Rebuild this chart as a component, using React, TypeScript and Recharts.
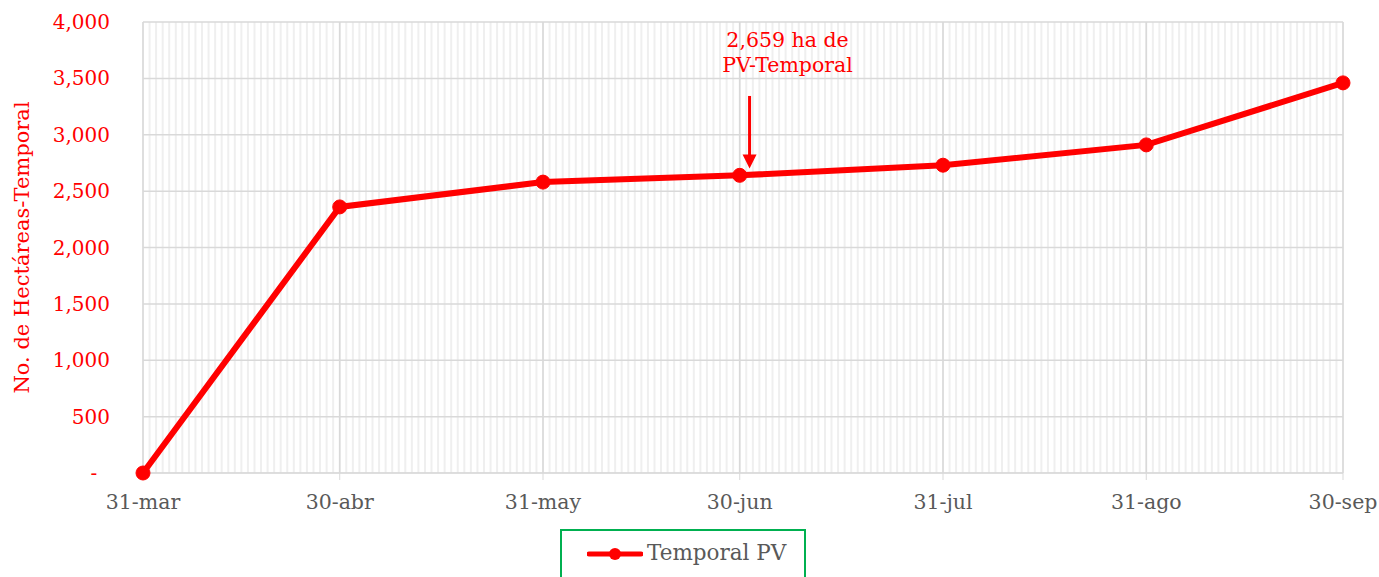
import React from 'react';
import { LineChart, Line, XAxis, YAxis, CartesianGrid, Legend, ReferenceLine } from 'recharts';

// month-end dates and their offset in days from 31-mar
const dateLabels = ['31-mar', '30-abr', '31-may', '30-jun', '31-jul', '31-ago', '30-sep'];
const dayOffsets = [0, 30, 61, 91, 122, 153, 183];
const hectareas = [0, 2360, 2580, 2640, 2730, 2910, 3460];
const yTicks = [0, 500, 1000, 1500, 2000, 2500, 3000, 3500, 4000];
const dailyTicks = Array.from({ length: 184 }, (_, i) => i);

const data = dayOffsets.map((day, i) => ({ day, label: dateLabels[i], value: hectareas[i] }));

const FONT = '"DejaVu Serif", serif';
const RED = '#ff0000';
const GREY = '#595959';

const fmtY = (v: number) => (v === 0 ? '-\u00a0\u00a0' : v.toLocaleString('en-US'));
const fmtX = (v: number) => dateLabels[dayOffsets.indexOf(v)] ?? '';

function Annotation(props: any) {
    const { x1, y1, x2, y2 } = props;
    return (
        <g>
            <line x1={x1} y1={y1} x2={x2} y2={y2 - 12} stroke={RED} strokeWidth={3} />
            <polygon points={`${x2 - 7},${y2 - 14} ${x2 + 7},${y2 - 14} ${x2},${y2}`} fill={RED} />
            <text x={x1 + 38} y={y1 - 49} textAnchor="middle" fill={RED} fontSize={20.5} fontFamily={FONT}>
                2,659 ha de
            </text>
            <text x={x1 + 38} y={y1 - 24} textAnchor="middle" fill={RED} fontSize={20.5} fontFamily={FONT}>
                PV-Temporal
            </text>
        </g>
    );
}

function LegendBox() {
    return (
        <div
            style={{
                width: 246,
                height: 60,
                border: '2px solid #00b050',
                display: 'flex',
                alignItems: 'flex-start',
                paddingTop: 9,
                boxSizing: 'border-box',
                fontFamily: FONT,
                fontSize: 21.5,
                color: GREY,
            }}
        >
            <svg width={56} height={20} style={{ marginLeft: 25, marginRight: 4, marginTop: 4 }}>
                <line x1={2} y1={10} x2={54} y2={10} stroke={RED} strokeWidth={5} strokeLinecap="round" />
                <circle cx={28} cy={10} r={6} fill={RED} />
            </svg>
            <span>Temporal PV</span>
        </div>
    );
}

export default function App() {
    return (
        <div style={{ position: 'absolute', left: 0, top: 0, width: 1379, height: 577, background: '#fff' }}>
            <LineChart width={1379} height={577} data={data} margin={{ top: 22, right: 36, left: 0, bottom: 0 }}>
                <XAxis
                    xAxisId="minor"
                    dataKey="day"
                    type="number"
                    domain={[0, 183]}
                    ticks={dailyTicks}
                    interval={0}
                    hide
                />
                <CartesianGrid xAxisId="minor" horizontal={false} stroke="#efefef" strokeWidth={2} />
                <CartesianGrid stroke="#d9d9d9" strokeWidth={1.5} />
                <XAxis
                    dataKey="day"
                    type="number"
                    domain={[0, 183]}
                    ticks={dayOffsets}
                    tickFormatter={fmtX}
                    height={56}
                    stroke="#d9d9d9"
                    tickSize={7}
                    tickMargin={14}
                    tick={{ fill: GREY, fontSize: 20.5, fontFamily: FONT }}
                    interval={0}
                />
                <YAxis
                    domain={[0, 4000]}
                    ticks={yTicks}
                    tickFormatter={fmtY}
                    width={143}
                    axisLine={false}
                    tickLine={false}
                    tickSize={0}
                    tickMargin={33}
                    tick={{ fill: RED, fontSize: 20, fontFamily: FONT }}
                    label={{
                        value: 'No. de Hectáreas-Temporal',
                        angle: -90,
                        position: 'insideLeft',
                        offset: 22,
                        style: { textAnchor: 'middle', fill: RED, fontSize: 21, fontFamily: FONT },
                    }}
                />
                <ReferenceLine
                    segment={[{ x: 92.5, y: 3344 }, { x: 92.5, y: 2700 }]}
                    shape={(p: any) => <Annotation {...p} />}
                />
                <Legend
                    verticalAlign="bottom"
                    content={() => <LegendBox />}
                    wrapperStyle={{ left: 560, width: 246, height: 48, bottom: 0, overflow: 'visible' }}
                />
                <Line
                    dataKey="value"
                    name="Temporal PV"
                    stroke={RED}
                    strokeWidth={6}
                    dot={{ r: 7, fill: RED, stroke: RED, strokeWidth: 1 }}
                    isAnimationActive={false}
                />
            </LineChart>
        </div>
    );
}
